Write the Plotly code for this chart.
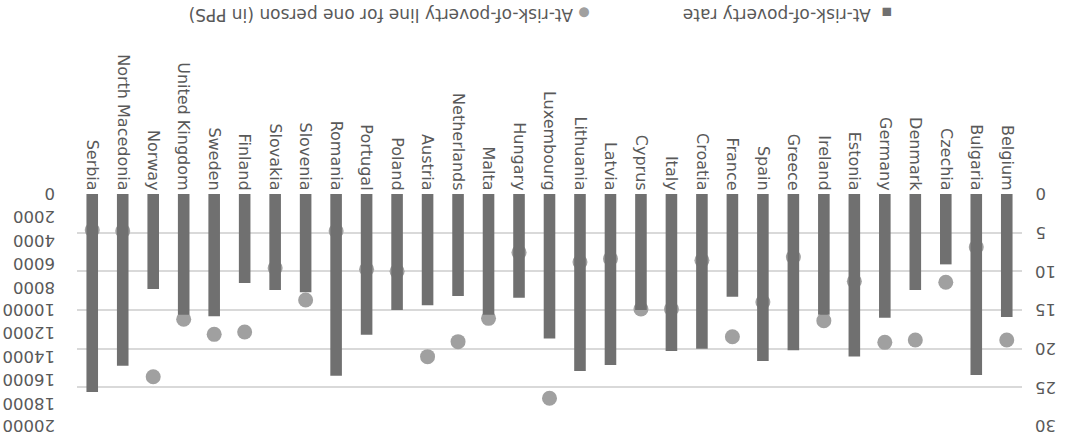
import plotly.graph_objects as go

countries = [
    "Belgium", "Bulgaria", "Czechia", "Denmark", "Germany", "Estonia", "Ireland",
    "Greece", "Spain", "France", "Croatia", "Italy", "Cyprus", "Latvia", "Lithuania",
    "Luxembourg", "Hungary", "Malta", "Netherlands", "Austria", "Poland", "Portugal",
    "Romania", "Slovenia", "Slovakia", "Finland", "Sweden", "United Kingdom", "Norway",
    "North Macedonia", "Serbia",
]

# At-risk-of-poverty rate (%)
poverty_rate = [
    15.9, 23.4, 9.1, 12.4, 16.0, 21.0, 15.6,
    20.2, 21.6, 13.3, 20.0, 20.3, 15.0, 22.1, 22.9,
    18.7, 13.4, 15.6, 13.2, 14.4, 15.0, 18.2,
    23.5, 12.7, 12.4, 11.5, 15.8, 15.6, 12.3,
    22.2, 25.6,
]

# At-risk-of-poverty line for one person (in PPS)
poverty_line = [
    12590, 4570, 7610, 12590, 12790, 7530, 10920,
    5430, 9310, 12300, 5720, 9910, 9910, 5580, 5860,
    17610, 5030, 10720, 12730, 14020, 6670, 6490,
    3190, 9140, 6380, 11900, 12100, 10800, 15750,
    3190, 3100,
]

line_ticks = list(range(0, 20001, 2000))
rate_ticks = list(range(0, 31, 5))

BAR = "#707070"
DOT = "#a0a0a0"
TXT = "#595959"
GRID = "#d9d9d9"
FONT = "DejaVu Sans"

fig = go.Figure()
fig.add_trace(go.Bar(
    x=countries, y=poverty_rate, yaxis="y2",
    marker=dict(color=BAR, line=dict(width=0)),
    name="At-risk-of-poverty rate", showlegend=False,
))
fig.add_trace(go.Scatter(
    x=countries, y=poverty_line, yaxis="y", mode="markers",
    marker=dict(color=DOT, size=15, line=dict(width=0)),
    name="At-risk-of-poverty line for one person (in PPS)", showlegend=False,
))

# Upside-down tick labels for both value axes
annotations = []
for v in line_ticks:
    annotations.append(dict(
        text=str(v), xref="paper", yref="y", x=-0.0212, y=v,
        xanchor="right", yanchor="middle", showarrow=False, textangle=180,
        font=dict(size=16.5, color=TXT, family=FONT),
    ))
for v in rate_ticks:
    annotations.append(dict(
        text=str(v), xref="paper", yref="y2", x=1.0116, y=v,
        xanchor="left", yanchor="middle", showarrow=False, textangle=180,
        font=dict(size=16.5, color=TXT, family=FONT),
    ))

# Legend entries, also upside down
annotations.append(dict(
    text=f'<span style="color:{BAR};font-size:11px">■</span>  At-risk-of-poverty rate',
    xref="paper", yref="paper", x=0.7524, y=1.7716,
    xanchor="center", yanchor="middle", showarrow=False, textangle=180,
    font=dict(size=17, color=TXT, family=FONT),
))
annotations.append(dict(
    text=f'<span style="color:{DOT};font-size:13px">●</span> At-risk-of-poverty line for one person (in PPS)',
    xref="paper", yref="paper", x=0.330, y=1.7716,
    xanchor="center", yanchor="middle", showarrow=False, textangle=180,
    font=dict(size=17, color=TXT, family=FONT),
))

fig.update_layout(
    width=1065, height=439,
    margin=dict(l=77, r=43, t=194, b=13, autoexpand=False),
    paper_bgcolor="white", plot_bgcolor="white",
    bargap=0.62,
    font=dict(family=FONT, color=TXT),
    xaxis=dict(
        type="category", range=[len(countries) - 0.5, -0.5], side="top",
        tickangle=90, tickfont=dict(size=16, color=TXT, family=FONT),
        showgrid=False, showline=False, ticks="", automargin=False,
    ),
    yaxis=dict(
        range=[20000, 0], tickvals=line_ticks, showticklabels=False,
        showgrid=False, zeroline=False, showline=False, ticks="",
        automargin=False,
    ),
    yaxis2=dict(
        range=[30, 0], tickvals=rate_ticks, overlaying="y", side="right",
        showticklabels=False,
        showgrid=True, gridcolor=GRID, gridwidth=1.5,
        zeroline=False, showline=False, ticks="", automargin=False,
    ),
    annotations=annotations,
)

fig.write_html("out.html")
